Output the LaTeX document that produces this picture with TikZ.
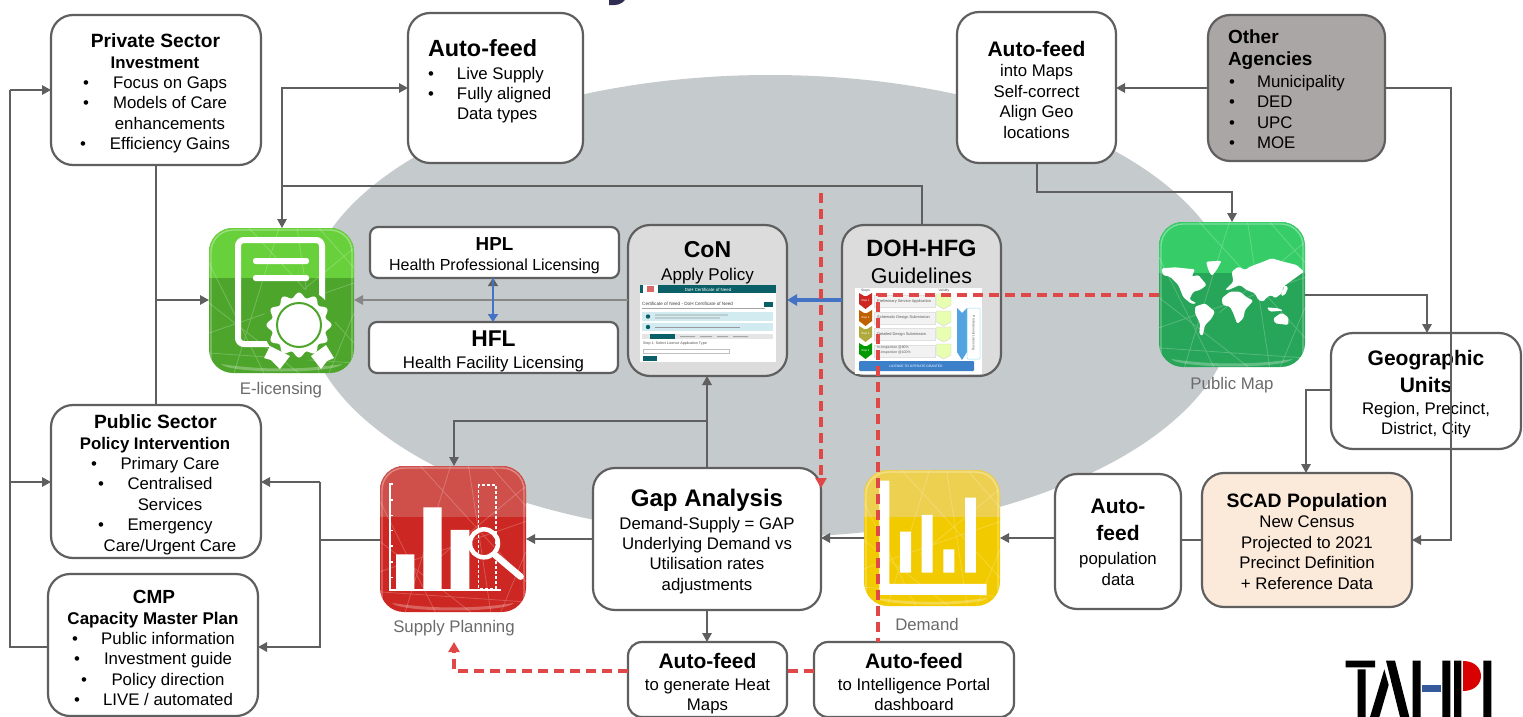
\documentclass[tikz,border=0pt]{standalone}
\usepackage{fontspec}
\setmainfont{Liberation Sans}
\usetikzlibrary{arrows.meta,shapes.geometric}
\definecolor{ln}{HTML}{5F5F5F}
\definecolor{ell}{HTML}{C5CACD}
\definecolor{redd}{HTML}{E04747}
\definecolor{bluu}{HTML}{4472C4}
\definecolor{lab}{HTML}{6B6B6B}
\definecolor{titleink}{HTML}{2F2D52}
\definecolor{teal1}{HTML}{0B5F66}
\definecolor{cyan1}{HTML}{D2EBF0}
\definecolor{peach}{HTML}{FBE9D9}
\definecolor{stone}{HTML}{AAA6A5}
\definecolor{pale}{HTML}{DCDCDC}
\definecolor{elicA}{HTML}{68D03A}\definecolor{elicB}{HTML}{4DA62B}
\definecolor{mapA}{HTML}{36CD68}\definecolor{mapB}{HTML}{27A558}
\definecolor{supA}{HTML}{CF4F4A}\definecolor{supB}{HTML}{CC2722}
\definecolor{demA}{HTML}{EDD050}\definecolor{demB}{HTML}{F2CA00}
\newcommand\fz[1]{\fontsize{#1}{20.4}\selectfont}
\newcommand\Ctr[2]{\makebox[0pt]{\kern\dimexpr #1pt*2\relax #2}}
\newcommand\Lft[2]{\makebox[0pt][l]{\kern #1pt #2}}
\newcommand\Blt[3]{\makebox[0pt]{\kern\dimexpr #1pt*2\relax •}\Ctr{#2}{#3}}
\newcommand\Lbl[3]{\makebox[0pt]{\kern\dimexpr #1pt*2\relax •}\Lft{#2}{#3}}
% name x0 y0 x1 y1 style firstbaseline content
\newcommand\bxn[8]{%
  \pgfmathsetmacro\dyv{(#3+#5)/2-#7}%
  \node[rbox,#6,minimum width={#4-#2},minimum height={#5-#3}] (#1) at ({(#2+#4)/2},{(#3+#5)/2})
   {\raisebox{\dyv pt}[0pt][0pt]{\begin{tabular}[t]{@{}c@{}}#8\end{tabular}}};}
% name x0 y0 x1 y1 light dark bandy
\newcommand\iconbase[8]{%
  \pgfmathsetmacro\icx{(#4-#2)/145}%
  \node[iconbox,fill=#7,minimum width={#4-#2},minimum height={#5-#3}] (#1) at ({(#2+#4)/2},{(#3+#5)/2}) {};
  \begin{scope}
   \clip[rounded corners=24pt] (#2,#3) rectangle (#4,#5);
   \fill[#6] (#2,#3) rectangle (#4,#8);
   \begin{scope}[shift={(#2,#3)},x=\icx pt,y=-\icx pt]
    \draw[white,opacity=.22,line width=.8pt]
      (0,35)--(55,145) (40,0)--(145,115) (0,105)--(145,55) (0,75)--(90,145)
      (88,0)--(110,145) (25,145)--(70,0) (145,20)--(60,90) (120,145)--(145,85)
      (0,125)--(145,135) (110,0)--(145,40);
    \fill[white,opacity=.28] (12,136) .. controls (50,142) and (95,142) .. (133,136) .. controls (125,146) and (20,146) .. (12,136) -- cycle;
   \end{scope}
   \draw[white,opacity=.35,line width=1.4pt,rounded corners=22pt] ({#2+2},{#3+2}) rectangle ({#4-2},{#5+30});
  \end{scope}}
\tikzset{
 rbox/.style={draw=ln,line width=2.2pt,fill=white,rounded corners=22pt,inner sep=0pt,outer sep=0pt,
   font=\fontsize{16.8}{20.4}\selectfont,text=black},
 iconbox/.style={rounded corners=24pt,inner sep=0pt,outer sep=0pt},
 iconlab/.style={text=lab,font=\fontsize{16.8}{20}\selectfont,inner sep=0pt},
 wire/.style={draw=ln,line width=1.35pt},
 arr/.style={wire,-{Triangle[length=9pt,width=9.5pt]}},
 rdash/.style={draw=redd,line width=3.4pt,dash pattern=on 10pt off 6pt},
 tinytxt/.style={inner sep=0pt,font=\fontsize{#1}{#1}\selectfont},
}
\begin{document}
\begin{tikzpicture}[x=1pt,y=-1pt]
\useasboundingbox (0,0) rectangle (1523,717);
\fill[white] (0,0) rectangle (1523,717);
% remnant of the cut-off title
\fill[titleink] (609,0) -- (625,0) .. controls (622,4) and (616,6) .. (609,5) -- cycle;
% big ellipse
\node[ellipse,fill=ell,inner sep=0pt,outer sep=0pt,minimum width=930pt,minimum height=462pt] (oval) at (770,306) {};

% boxes
\bxn{priv}{51}{15}{261}{165}{}{47}{%
 \Ctr{-.5}{\fz{19.2}\bfseries Private Sector}\\[.6pt]
 \Ctr{-1}{\fz{16.8}\bfseries Investment}\\
 \Blt{-70}{14}{Focus on Gaps}\\
 \Blt{-70}{14}{Models of Care}\\
 \Ctr{14}{enhancements}\\
 \Blt{-73}{14}{Efficiency Gains}}
\bxn{pub}{51}{405}{261}{558}{}{428}{%
 \Ctr{-.5}{\fz{19.2}\bfseries Public Sector}\\[.6pt]
 \Ctr{-1}{\fz{16.8}\bfseries Policy Intervention}\\
 \Blt{-62}{14}{Primary Care}\\
 \Blt{-55}{14}{Centralised}\\
 \Ctr{14}{Services}\\
 \Blt{-55}{14}{Emergency}\\
 \Ctr{14}{Care/Urgent Care}}
\bxn{cmp}{48}{574}{258}{716}{}{603}{%
 \Ctr{1}{\fz{19}\bfseries CMP}\\[.6pt]
 \Ctr{0}{\fz{17}\bfseries Capacity Master Plan}\\
 \Blt{-78}{15}{Public information}\\
 \Blt{-76}{15}{Investment guide}\\
 \Blt{-69}{15}{Policy direction}\\
 \Blt{-76}{15}{LIVE / automated}}
\bxn{afl}{408}{13}{583}{163}{}{56}{%
 \Lft{-67.5}{\fz{23.4}\bfseries Auto-feed}\\[2.6pt]
 \Lbl{-64.5}{-38.5}{Live Supply}\\
 \Lbl{-64.5}{-38.5}{Fully aligned}\\
 \Lft{-38.5}{Data types}}
\bxn{afr}{957}{12}{1116}{163}{}{56}{%
 \Ctr{0}{\fz{21}\bfseries Auto-feed}\\[.6pt]
 into Maps\\Self-correct\\Align Geo\\locations}
\bxn{other}{1208}{15}{1385}{161}{fill=stone}{43.5}{%
 \Lft{-68.5}{\fz{19}\bfseries Other}\\[2.1pt]
 \Lft{-68.5}{\fz{19}\bfseries Agencies}\\[1.1pt]
 \Lbl{-64.5}{-39.5}{Municipality}\\
 \Lbl{-64.5}{-39.5}{DED}\\
 \Lbl{-64.5}{-39.5}{UPC}\\
 \Lbl{-64.5}{-39.5}{MOE}}
\bxn{geo}{1331}{333}{1521}{449}{}{365.5}{%
 \fz{21}\bfseries Geographic\\[5.6pt]
 \fz{21}\bfseries Units\\[1.2pt]
 Region, Precinct,\\District, City}
\bxn{scad}{1202}{473}{1412}{607}{fill=peach}{507.5}{%
 \fz{19.4}\bfseries SCAD Population\\
 New Census\\Projected to 2021\\Precinct Definition\\+ Reference Data}
\bxn{afp}{1055}{474}{1181}{609}{}{513}{%
 \fz{21}\bfseries Auto-\\[6.6pt]
 \fz{21}\bfseries feed\\[3.6pt]
 population\\data}
\bxn{gap}{593}{468}{821}{610}{}{506}{%
 \fz{24}\bfseries Gap Analysis\\[2.6pt]
 Demand-Supply = GAP\\Underlying Demand vs\\Utilisation rates\\adjustments}
\bxn{con}{628}{225}{787}{376}{fill=pale}{257}{%
 \fz{23}\bfseries CoN\\[2.6pt]
 \fz{17}Apply Policy}
\bxn{doh}{842}{225}{1001}{376}{fill=pale}{256}{%
 \fz{23.6}\bfseries DOH-HFG\\[5.6pt]
 \fz{21.4}Guidelines}
\bxn{hpl}{370}{227}{619}{278}{rounded corners=8pt}{250}{%
 \fz{18.8}\bfseries HPL\\
 \fz{16}Health Professional Licensing}
\bxn{hfl}{369}{322}{618}{373}{rounded corners=8pt}{346}{%
 \fz{22.8}\bfseries HFL\\[1.6pt]
 Health Facility Licensing}
\bxn{heat}{628}{642}{787}{717}{rounded corners=14pt}{668}{%
 \fz{21}\bfseries Auto-feed\\[2pt]
 to generate Heat\\Maps}
\bxn{intel}{814}{642}{1014}{717}{rounded corners=14pt}{668}{%
 \fz{21}\bfseries Auto-feed\\[2pt]
 to Intelligence Portal\\dashboard}

% CoN screenshot
\begin{scope}
 \fill[white] (640,285) rectangle (776,362);
 \fill[teal1] (640,285) rectangle (776,293);
 \fill[white] (643,285) rectangle (658,293);
 \fill[supB!70!white] (647,286) rectangle (654,292);
 \node[tinytxt=4.4,text=white] (shotA) at (708,289.5) {DoH Certificate of Need};
 \node[tinytxt=4.6,text=black!75,anchor=west] (shotB) at (642,304) {Certificate of Need - DoH Certificate of Need};
 \fill[teal1] (764,302) rectangle (773,306.5);
 \fill[black!35] (642,308) rectangle (765,309);
 \fill[cyan1] (642,312) rectangle (773,321);
 \fill[teal1] (648,316.5) circle (2.2);
 \fill[black!40] (655,314.5) rectangle (728,315.3) (655,317.5) rectangle (720,318.3);
 \fill[cyan1] (642,323) rectangle (773,331);
 \fill[teal1] (648,327) circle (2.2);
 \fill[black!40] (655,326.5) rectangle (740,327.3);
 \fill[black!10] (642,334) rectangle (773,339);
 \fill[teal1] (650,334) rectangle (675,339);
 \fill[black!35] (680,336) rectangle (695,337) (700,336) rectangle (712,337) (717,336) rectangle (728,337) (733,336) rectangle (748,337);
 \node[tinytxt=3.6,text=black!70,anchor=west] (shotC) at (643,343.5) {Step 1: Select Licence Application Type};
 \draw[black!25,line width=.4pt] (643,349) rectangle (729,353.5);
 \fill[teal1] (643,356) rectangle (657,361);
\end{scope}

% Guidelines image
\begin{scope}
 \fill[white] (855,288) rectangle (982,374);
 \node[tinytxt=3.4,text=black!70] (stS) at (865.5,291) {Steps};
 \node[tinytxt=3.4,text=black!70] (stV) at (944,291) {Validity};
 \foreach \yy/\cc/\nn in {293/supB/1,310/orange!75!black/2,326/yellow!65!black/3,343/green!60!black/4}{
  \fill[\cc] (859,\yy) -- (864,{\yy+3}) -- (867,{\yy+3}) -- (872,\yy) -- (872,{\yy+11}) -- (865.5,{\yy+16}) -- (859,{\yy+11}) -- cycle;
  \node[tinytxt=2.8,text=white] (stN\nn) at (865.5,{\yy+8}) {Step \nn};
  \fill[black!5] (874,{\yy+2}) rectangle (935,{\yy+14});
  \draw[black!12,line width=.4pt] (874,{\yy+2}) rectangle (935,{\yy+14});
  \fill[green!30!yellow!30!white,draw=black!20,line width=.3pt] (936.5,{\yy+1}) -- (951,{\yy+1}) -- (951,{\yy+12}) -- (943.7,{\yy+16}) -- (936.5,{\yy+12}) -- cycle;
 }
 \node[tinytxt=3.9,anchor=west,text=black!65] (stA) at (877,301) {Preliminary Service Application};
 \node[tinytxt=3.9,anchor=west,text=black!65] (stB) at (877,317) {Schematic Design Submission};
 \node[tinytxt=3.9,anchor=west,text=black!65] (stC) at (877,334) {Detailed Design Submission};
 \node[tinytxt=3.5,anchor=west,text=black!65] (stD) at (877,348) {In-Inspection @90\%};
 \node[tinytxt=3.5,anchor=west,text=black!65] (stE) at (877,353) {In-Inspection @100\%};
 \fill[cyan!70!blue!70!white] (957,308) -- (962,313) -- (967,308) -- (967,352) -- (962,360) -- (957,352) -- cycle;
 \draw[cyan!40!white,line width=.5pt,rounded corners=1pt] (967,308) rectangle (980,359);
 \node[tinytxt=3.4,rotate=-90,text=black!65] (stP) at (973.5,333) {Professional Licensing};
 \fill[bluu!90!cyan,rounded corners=1pt] (859,361) rectangle (974,371);
 \node[tinytxt=3.3,text=white] (stL) at (916,366) {LICENSE TO OPERATE GRANTED};
\end{scope}

% E-licensing icon
\iconbase{elic}{209}{228}{354}{373}{elicA}{elicB}{278}
\draw[white,line width=6pt,rounded corners=6pt] (238,240) rectangle (322,344);
\fill[white,rounded corners=2.5pt] (253,258) rectangle (309,264) (253,275) rectangle (309,281);
\fill[elicB] (299,325) circle (36);
\fill[white] (270,346) -- (264,358) -- (271,360) -- (280,369) -- (290,356) -- cycle;
\fill[white] (311,356) -- (321,369) -- (327,361) -- (334,358) -- (326,345) -- cycle;
\fill[white] plot[domain=0:360,samples=121] ({299+(30+2.5*cos(12*\x))*cos(\x)},{325+(30+2.5*cos(12*\x))*sin(\x)}) -- cycle;
\draw[elicB,line width=2pt,fill=white] (299,325) circle (22);
\node[iconlab] (elicL) at (281,390) {E-licensing};

% Public map icon
\iconbase{pmap}{1159}{222}{1305}{367}{mapA}{mapB}{273}
\begin{scope}[shift={(1150,210)},x=.3333pt,y=-.3333pt]
 \fill[white,rounded corners=1.5pt]
  (35,175)--(75,172)--(135,178)--(125,200)--(145,195)--(170,225)--(150,240)--(130,245)--(118,268)--(140,280)--(125,282)--(100,262)--(85,225)--(60,200)--(38,195)--cycle
  (168,155)--(215,152)--(200,180)--(185,198)--(175,180)--cycle
  (135,290)--(165,280)--(195,305)--(185,325)--(165,345)--(158,378)--(148,372)--(150,340)--(135,310)--cycle
  (215,265)--(240,245)--(270,245)--(290,262)--(310,272)--(285,300)--(280,325)--(262,342)--(250,310)--(240,290)--(218,285)--cycle
  (245,185)--(265,170)--(285,180)--(300,170)--(340,155)--(365,145)--(400,155)--(440,165)--(462,185)--(420,215)--(400,230)--(395,250)--(375,265)--(365,255)--(350,262)--(340,275)--(325,270)--(315,250)--(290,240)--(270,225)--(235,240)--(225,240)--(250,215)--cycle
  (405,225)--(415,232)--(405,255)--(392,258)--cycle
  (350,292)--(385,295)--(400,302)--(360,305)--cycle
  (370,325)--(395,308)--(415,322)--(415,345)--(375,340)--cycle;
\end{scope}
\node[iconlab] (pmapL) at (1232,385) {Public Map};

% Supply planning icon
\iconbase{sup}{380}{466}{526}{612}{supA}{supB}{517}
\begin{scope}[shift={(370,460)},x=.3333pt,y=-.3333pt]
 \draw[white,line width=1.5pt] (70,72) -- (60,72) -- (60,390) -- (392,390);
 \foreach \t in {120,166,212,258,306,352}{\draw[white,line width=1.2pt] (60,\t) -- (70,\t);}
 \fill[white] (78,283) rectangle (133,390) (160,142) rectangle (215,390) (242,210) rectangle (298,390);
 \draw[white,line width=1.3pt,densely dashed] (325,75) rectangle (378,385);
 \draw[white,line width=4.5pt] (342,250) circle (42);
 \draw[white,line width=6.5pt,line cap=round] (375,285) -- (452,350);
\end{scope}
\node[iconlab] (supL) at (454,628) {Supply Planning};

% Demand icon
\iconbase{dem}{864}{470}{1000}{606}{demA}{demB}{517}
\begin{scope}[shift={(850,460)},x=.3333pt,y=-.3333pt]
 \fill[white] (88,62) -- (118,62) -- (118,372) -- (410,372) -- (410,405) -- (88,405) -- cycle;
 \fill[white] (150,215) rectangle (183,338) (215,165) rectangle (248,338) (280,268) rectangle (313,338) (345,113) rectangle (378,338);
\end{scope}
\node[iconlab] (demL) at (927,624) {Demand};

% TAHPI logo
\begin{scope}[shift={(1320,640)},x=.3333pt,y=-.3333pt]
 \fill[black] (77,62) rectangle (165,82) (113,88) rectangle (137,231);
 \fill[black] (193,88) -- (206,135) -- (178,231) -- (150,231) -- cycle;
 \fill[black] (198,62) -- (225,62) -- (268,231) -- (240,231) -- cycle;
 \fill[black] (278,62) rectangle (302,231) (367,62) rectangle (391,231) (402,62) rectangle (424,231) (490,62) rectangle (514,231);
 \fill[bluu!80!black] (307,136) rectangle (362,155);
 \fill[red!85!black] (430,62) .. controls (500,62) and (500,152) .. (430,152) -- cycle;
\end{scope}

% connectors: grey
\draw[wire] (cmp.west |- 0,647) -- (10,647) -- (10,90);
\draw[arr] (10,90) -- (priv.west |- 0,90);
\draw[arr] (10,482) -- (pub.west |- 0,482);
\draw[wire] (priv.south -| 156,0) -- (pub.north -| 156,0);
\draw[arr] (156,300) -- (elic.west |- 0,300);
\draw[wire] (sup.west |- 0,540) -- (320,540);
\draw[arr] (320,482) -- (pub.east |- 0,482);
\draw[wire] (320,482) -- (320,540);
\draw[arr] (320,540) -- (320,647) -- (cmp.east |- 0,647);
\draw[arr] (doh.north -| 922,0) -- (922,186) -- (282,186) -- (elic.north -| 282,0);
\draw[arr] (282,186) -- (282,88) -- (afl.west |- 0,88);
\draw[arr,draw=ln!75!white,line width=1.3pt] (con.west |- 0,300) -- (elic.east |- 0,300);
\draw[arr] (other.west |- 0,88) -- (afr.east |- 0,88);
\draw[arr] (other.east |- 0,88) -- (1451,88) -- (1451,540) -- (scad.east |- 0,540);
\draw[arr] (afr.south -| 1037,0) -- (1037,192) -- (1232,192) -- (pmap.north -| 1232,0);
\draw[arr] (pmap.east |- 0,295) -- (1427,295) -- (geo.north -| 1427,0);
\draw[arr] (geo.west |- 0,390) -- (1306,390) -- (scad.north -| 1306,0);
\draw[wire] (scad.west |- 0,540) -- (afp.east |- 0,540);
\draw[arr] (afp.west |- 0,538) -- (dem.east |- 0,538);
\draw[arr] (dem.west |- 0,538) -- (gap.east |- 0,538);
\draw[arr] (gap.west |- 0,539) -- (sup.east |- 0,539);
\draw[arr] (gap.north -| 707,0) -- (con.south -| 707,0);
\draw[arr] (707,421) -- (454,421) -- (sup.north -| 454,0);
\draw[arr] (gap.south -| 707,0) -- (heat.north -| 707,0);
% blue
\draw[draw=ln,line width=1.4pt,-{Triangle[length=8pt,width=10pt]}] (493,322) -- (hpl.south -| 493,0);
\draw[draw=bluu,line width=2.8pt,-{Triangle[length=8pt,width=10pt]}] (493,278) -- (hfl.north -| 493,0);
\draw[draw=bluu,line width=3.2pt,-{Triangle[length=10pt,width=11pt]}] (doh.west |- 0,300) -- (con.east |- 0,300);
% red dashed
\coordinate (redtop) at (821,193);
\draw[rdash,-{Triangle[length=10pt,width=11pt]}] (redtop) -- (gap.east |- 0,488);
\draw[rdash] (pmap.west |- 0,295) -- (878,295) -- (intel.north -| 878,0);
\draw[rdash] (intel.west |- 0,671) -- (heat.east |- 0,671);
\coordinate (redend) at (454,642);
\draw[rdash,-{Triangle[length=10pt,width=11pt]}] (heat.west |- 0,671) -- (454,671) -- (redend);
\end{tikzpicture}
\end{document}
